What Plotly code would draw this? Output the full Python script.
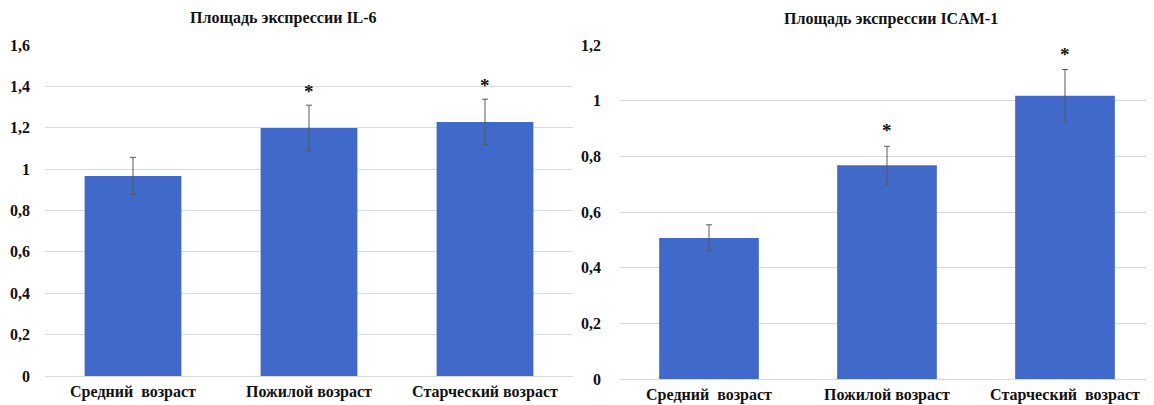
import plotly.graph_objects as go

categories_left = ["Средний\u00a0 возраст", "Пожилой возраст", "Старческий возраст"]
categories_right = ["Средний\u00a0 возраст", "Пожилой возраст", "Старческий\u00a0 возраст"]

il6_values = [0.967, 1.199, 1.228]
il6_errors = [0.09, 0.11, 0.11]
il6_star = ["", "*", "*"]
il6_star_y = [None, 1.392, 1.421]

icam_values = [0.507, 0.768, 1.018]
icam_errors = [0.047, 0.068, 0.094]
icam_star = ["", "*", "*"]
icam_star_y = [None, 0.905, 1.175]

title_left = "Площадь экспрессии IL-6"
title_right = "Площадь экспрессии ICAM-1"
left_ticks = [0, 0.2, 0.4, 0.6, 0.8, 1.0, 1.2, 1.4, 1.6]
left_ticktext = ["0", "0,2", "0,4", "0,6", "0,8", "1", "1,2", "1,4", "1,6"]
right_ticks = [0, 0.2, 0.4, 0.6, 0.8, 1.0, 1.2]
right_ticktext = ["0", "0,2", "0,4", "0,6", "0,8", "1", "1,2"]

BAR = "#4169C9"
ERR = "#595959"
GRID = "#D9D9D9"
FONT = "Liberation Serif, Times New Roman, serif"
VIEW_W, VIEW_H = 1154, 405
OFF = 8  # page body margin
W, H = VIEW_W - OFF, VIEW_H - OFF

fig = go.Figure()
fig.add_trace(go.Bar(x=categories_left, y=il6_values, marker=dict(color=BAR, line=dict(width=0)),
                     width=0.55,
                     error_y=dict(type="data", array=il6_errors, color=ERR, thickness=1, width=3),
                     xaxis="x", yaxis="y", showlegend=False))
fig.add_trace(go.Bar(x=categories_right, y=icam_values, marker=dict(color=BAR, line=dict(width=0)),
                     width=0.56,
                     error_y=dict(type="data", array=icam_errors, color=ERR, thickness=1, width=3),
                     xaxis="x2", yaxis="y2", showlegend=False))

def px_x(p):
    return (p - OFF) / W

def px_y(p):
    return 1 - (p - OFF) / H

annotations = [
    dict(text="<b>" + title_left + "</b>", x=px_x(283), y=px_y(18), xref="paper", yref="paper",
         showarrow=False, font=dict(family=FONT, size=16, color="#111111"), xanchor="center", yanchor="middle"),
    dict(text="<b>" + title_right + "</b>", x=px_x(891), y=px_y(18.5), xref="paper", yref="paper",
         showarrow=False, font=dict(family=FONT, size=16, color="#111111"), xanchor="center", yanchor="middle"),
]
for cat, s, yv in zip(categories_left, il6_star, il6_star_y):
    if s:
        annotations.append(dict(text="<b>" + s + "</b>", x=cat, y=yv, xref="x", yref="y", showarrow=False,
                                yshift=-3, font=dict(family=FONT, size=19, color="#111111")))
for cat, s, yv in zip(categories_right, icam_star, icam_star_y):
    if s:
        annotations.append(dict(text="<b>" + s + "</b>", x=cat, y=yv, xref="x2", yref="y2", showarrow=False,
                                yshift=-3, font=dict(family=FONT, size=19, color="#111111")))

tickfont = dict(family=FONT, size=16, color="#111111", weight="bold")
fig.update_layout(
    width=W, height=H,
    margin=dict(l=0, r=0, t=0, b=0, pad=0),
    paper_bgcolor="white", plot_bgcolor="white",
    font=dict(family=FONT, color="#111111"),
    xaxis=dict(domain=[px_x(45), px_x(573)], anchor="y", showgrid=False, showline=False,
               tickfont=tickfont, ticks="", ticklabelstandoff=4, automargin=False),
    yaxis=dict(domain=[px_y(376), px_y(45)], anchor="x", range=[0, 1.6],
               tickvals=left_ticks, ticktext=left_ticktext, showgrid=True, gridcolor=GRID,
               gridwidth=1, zeroline=True, zerolinecolor=GRID, zerolinewidth=1, showline=False,
               tickfont=tickfont, ticks="", ticklabelstandoff=14, automargin=False),
    xaxis2=dict(domain=[px_x(620), 1.0], anchor="y2", showgrid=False, showline=False,
                tickfont=tickfont, ticks="", ticklabelstandoff=4, automargin=False),
    yaxis2=dict(domain=[px_y(379), px_y(45)], anchor="x2", range=[0, 1.2],
                tickvals=right_ticks, ticktext=right_ticktext, showgrid=True, gridcolor=GRID,
                gridwidth=1, zeroline=True, zerolinecolor=GRID, zerolinewidth=1, showline=False,
                tickfont=tickfont, ticks="", ticklabelstandoff=18, automargin=False),
    annotations=annotations,
)
fig.write_html("out.html")
